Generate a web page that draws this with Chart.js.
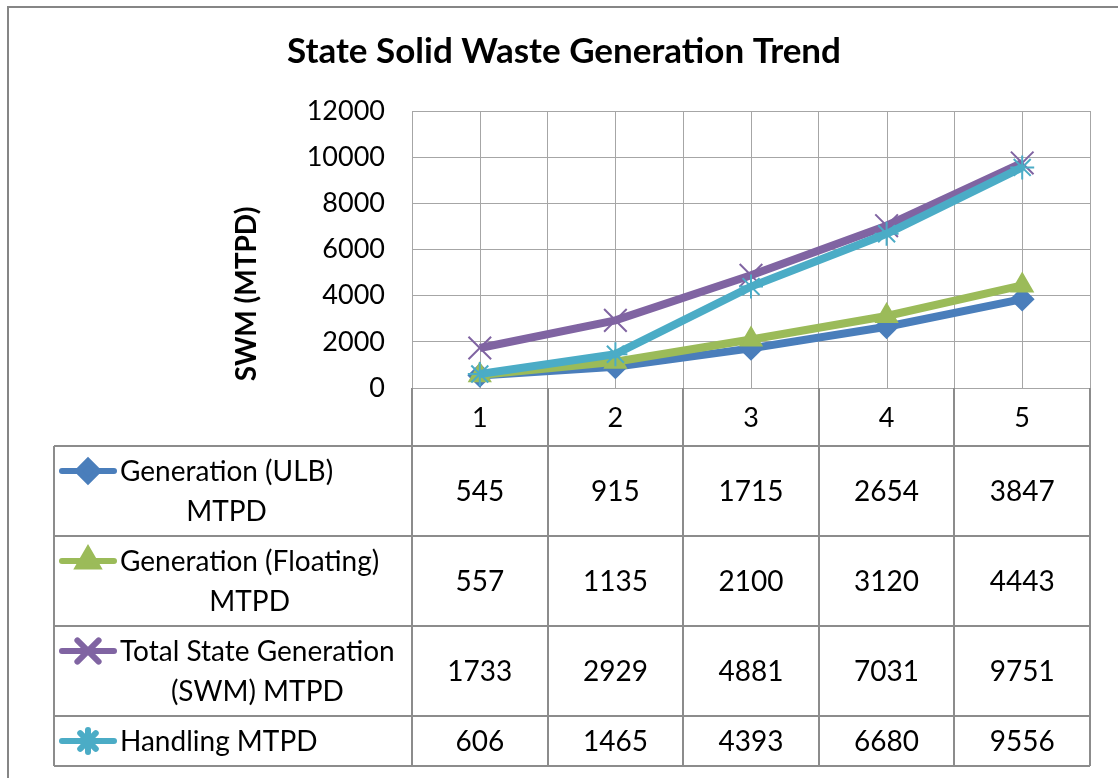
<!DOCTYPE html>
<html>
<head>
<meta charset="utf-8">
<script src="https://cdn.jsdelivr.net/npm/chart.js@4.4.1/dist/chart.umd.min.js"></script>
<style>
  html, body { margin: 0; padding: 0; background: #fff; }
  canvas { display: block; }
</style>
</head>
<body>
<canvas id="chart" width="1118" height="778"></canvas>
<script>
// Chart data
const categories = ['1', '2', '3', '4', '5'];
const seriesLabels = [
    ['Generation (ULB)', 'MTPD'],
    ['Generation (Floating)', 'MTPD'],
    ['Total State Generation', '(SWM) MTPD'],
    ['Handling MTPD']
];
const ulbGeneration = [545, 915, 1715, 2654, 3847];
const floatingGeneration = [557, 1135, 2100, 3120, 4443];
const totalGeneration = [1733, 2929, 4881, 7031, 9751];
const handling = [606, 1465, 4393, 6680, 9556];
const yTicks = [0, 2000, 4000, 6000, 8000, 10000, 12000];

const FONT = 'Lato, "Open Sans", "Noto Sans", sans-serif';
const GRID = '#a6a6a6';
const TABLE_LINE = '#8c8c8c';
const ROW_HEIGHTS = [58, 90, 90, 90, 50];

const seriesValues = [ulbGeneration, floatingGeneration, totalGeneration, handling];

// border around the whole chart + y axis title
const framePlugin = {
    id: 'frame',
    beforeDraw(chart) {
        const ctx = chart.ctx;
        ctx.save();
        ctx.strokeStyle = '#868686';
        ctx.lineWidth = 2;
        ctx.strokeRect(8, 7, 1200, 900);
        ctx.restore();
    },
    afterDraw(chart) {
        const ctx = chart.ctx;
        ctx.save();
        ctx.translate(247, 294);
        ctx.rotate(-Math.PI / 2);
        ctx.font = 'bold 28px ' + FONT;
        ctx.fillStyle = '#000';
        ctx.textAlign = 'center';
        ctx.textBaseline = 'middle';
        ctx.fillText('SWM (MTPD)', 0, 0);
        ctx.restore();
    }
};

// extra gridlines through the category centres
const centreLines = {
    id: 'centreLines',
    beforeDatasetsDraw(chart) {
        const { ctx, chartArea, scales: { x } } = chart;
        ctx.save();
        ctx.strokeStyle = GRID;
        ctx.lineWidth = 1;
        categories.forEach((c, i) => {
            const px = Math.round(x.getPixelForValue(i)) + 0.5;
            ctx.beginPath();
            ctx.moveTo(px, chartArea.top);
            ctx.lineTo(px, chartArea.bottom);
            ctx.stroke();
        });
        ctx.restore();
    }
};

// Excel style data table under the plot
const dataTable = {
    id: 'dataTable',
    afterDraw(chart) {
        const { ctx, chartArea, scales: { x } } = chart;
        const step = x.getPixelForValue(1) - x.getPixelForValue(0);
        const first = x.getPixelForValue(0) - step / 2;
        const tableLeft = 54;
        const right = chartArea.right;
        const rows = [chartArea.bottom];
        ROW_HEIGHTS.forEach(h => rows.push(rows[rows.length - 1] + h));

        ctx.save();
        ctx.strokeStyle = TABLE_LINE;
        ctx.lineWidth = 2;
        // verticals at category boundaries
        for (let k = 0; k <= categories.length; k++) {
            const px = Math.round(first + k * step);
            ctx.beginPath();
            ctx.moveTo(px, rows[0]);
            ctx.lineTo(px, rows[rows.length - 1]);
            ctx.stroke();
        }
        ctx.beginPath();
        ctx.moveTo(tableLeft, rows[1]);
        ctx.lineTo(tableLeft, rows[rows.length - 1]);
        ctx.stroke();
        for (let r = 1; r < rows.length; r++) {
            ctx.beginPath();
            ctx.moveTo(tableLeft, rows[r]);
            ctx.lineTo(right, rows[r]);
            ctx.stroke();
        }

        ctx.font = '28px ' + FONT;
        ctx.fillStyle = '#000';
        ctx.textBaseline = 'middle';
        const lineH = 40;

        chart.data.datasets.forEach((ds, s) => {
            const top = rows[s + 1];
            const mid = (top + rows[s + 2]) / 2;
            // values
            ctx.textAlign = 'center';
            seriesValues[s].forEach((v, i) => {
                ctx.fillText(String(v), x.getPixelForValue(i), mid + 1);
            });
            // label, lines centred on the widest line
            const lines = seriesLabels[s];
            const widest = Math.max(...lines.map(l => ctx.measureText(l).width));
            const textX = 120 + widest / 2;
            const y0 = mid - (lines.length - 1) * lineH / 2;
            lines.forEach((l, j) => ctx.fillText(l, textX, y0 + j * lineH + 1));

            // legend key
            ctx.save();
            ctx.strokeStyle = ds.borderColor;
            ctx.lineWidth = 6;
            ctx.lineCap = 'round';
            ctx.beginPath();
            ctx.moveTo(62, y0);
            ctx.lineTo(114, y0);
            ctx.stroke();
            ctx.fillStyle = ds.pointBackgroundColor;
            ctx.strokeStyle = ds.pointBorderColor;
            Chart.helpers.drawPoint(ctx, {
                pointStyle: ds.pointStyle,
                radius: ds.pointRadius - 1,
                rotation: 0,
                borderWidth: 1.5
            }, 88, y0);
            ctx.restore();
        });
        ctx.restore();
    }
};

const colours = ['#4a7ebb', '#9bbb59', '#8064a2', '#4bacc6'];
const styles = ['rectRot', 'triangle', 'crossRot', 'star'];
const radii = [11, 12, 16, 12];

new Chart(document.getElementById('chart').getContext('2d'), {
    type: 'line',
    data: {
        labels: categories,
        datasets: seriesValues.map((vals, s) => ({
            label: seriesLabels[s].join(' '),
            data: vals,
            borderColor: colours[s],
            backgroundColor: colours[s],
            pointBackgroundColor: colours[s],
            pointBorderColor: colours[s],
            pointStyle: styles[s],
            pointRadius: radii[s],
            pointBorderWidth: 2,
            borderWidth: 8,
            tension: 0,
            order: seriesValues.length - 1 - s
        }))
    },
    options: {
        responsive: false,
        animation: false,
        layout: { padding: { left: 38, right: 28, top: 0, bottom: 332 } },
        plugins: {
            legend: { display: false },
            tooltip: { enabled: false },
            title: {
                display: true,
                text: 'State Solid Waste Generation Trend',
                color: '#000',
                font: { family: FONT, size: 35, weight: 'bold', lineHeight: 1.2 },
                padding: { top: 31, bottom: 38 }
            }
        },
        scales: {
            x: {
                offset: true,
                grid: { offset: true, color: GRID, lineWidth: 1, drawTicks: false },
                border: { color: GRID },
                ticks: { color: '#000', font: { family: FONT, size: 27 }, padding: 14 },
                afterFit(scale) { scale.height = 58; }
            },
            y: {
                min: 0,
                max: 12000,
                afterBuildTicks(scale) { scale.ticks = yTicks.map(v => ({ value: v })); },
                grid: { color: GRID, lineWidth: 1, drawTicks: false },
                border: { color: GRID },
                ticks: {
                    color: '#000',
                    font: { family: FONT, size: 27 },
                    padding: 27,
                    callback: v => String(v)
                },
                afterFit(scale) { scale.width = 374; }
            }
        }
    },
    plugins: [framePlugin, centreLines, dataTable]
});
</script>
</body>
</html>
